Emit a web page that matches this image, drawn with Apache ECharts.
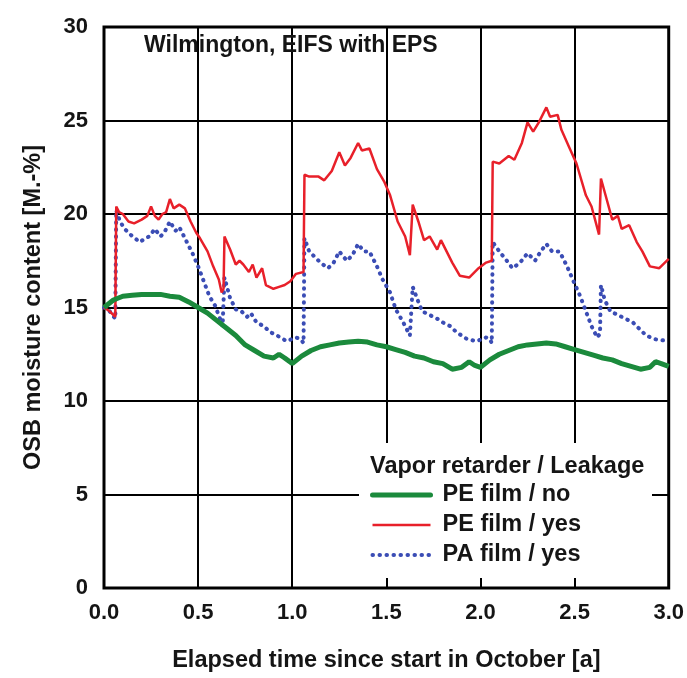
<!DOCTYPE html>
<html>
<head>
<meta charset="utf-8">
<script src="https://cdn.jsdelivr.net/npm/echarts@6/dist/echarts.min.js"></script>
<style>html,body{margin:0;padding:0;background:#fff;}#c{width:687px;height:678px;}</style>
</head>
<body>
<div id="c"></div>
<script>
// ---- data ----
const xTicks = [0, 0.5, 1.0, 1.5, 2.0, 2.5, 3.0];
const yTicks = [0, 5, 10, 15, 20, 25, 30];

const peNoT = [0,0.05,0.1,0.15,0.2,0.25,0.3,0.35,0.4,0.45,0.5,0.55,0.6,0.65,0.7,0.75,0.8,0.85,0.9,0.93,0.96,1.0,1.05,1.1,1.15,1.2,1.25,1.3,1.35,1.4,1.45,1.5,1.55,1.6,1.65,1.7,1.75,1.8,1.85,1.9,1.94,1.97,2.0,2.05,2.1,2.15,2.2,2.25,2.3,2.35,2.4,2.45,2.5,2.55,2.6,2.65,2.7,2.75,2.8,2.85,2.9,2.93,2.96,3.0];
const peNoV = [15.0,15.4,15.6,15.65,15.7,15.7,15.7,15.6,15.55,15.3,15.0,14.7,14.3,13.9,13.5,13.0,12.7,12.4,12.3,12.5,12.3,12.0,12.4,12.7,12.9,13.0,13.1,13.15,13.2,13.15,13.0,12.9,12.75,12.6,12.4,12.3,12.1,12.0,11.7,11.8,12.1,11.9,11.8,12.2,12.5,12.7,12.9,13.0,13.05,13.1,13.05,12.9,12.75,12.6,12.45,12.3,12.2,12.0,11.85,11.7,11.8,12.1,12.0,11.85];

const peYesT = [0,0.03,0.06,0.065,0.08,0.1,0.13,0.16,0.2,0.23,0.25,0.27,0.29,0.31,0.33,0.35,0.37,0.4,0.43,0.46,0.49,0.51,0.55,0.58,0.61,0.625,0.635,0.64,0.67,0.7,0.72,0.74,0.77,0.79,0.81,0.84,0.86,0.9,0.93,0.96,0.99,1.02,1.06,1.065,1.09,1.14,1.17,1.21,1.25,1.28,1.31,1.35,1.37,1.41,1.45,1.49,1.52,1.56,1.6,1.625,1.64,1.67,1.7,1.73,1.77,1.79,1.82,1.85,1.89,1.94,1.99,2.03,2.06,2.065,2.1,2.15,2.18,2.22,2.25,2.28,2.31,2.35,2.37,2.41,2.43,2.47,2.51,2.56,2.59,2.63,2.64,2.67,2.7,2.73,2.75,2.79,2.83,2.86,2.9,2.95,3.0];
const peYesV = [15.0,14.8,14.5,20.4,20.1,20.0,19.6,19.5,19.7,19.9,20.4,19.9,19.7,20.0,20.1,20.8,20.3,20.5,20.3,19.6,19.0,18.7,18.0,17.2,16.5,15.8,16.0,18.8,18.1,17.3,17.5,17.3,16.9,17.3,16.6,17.1,16.2,16.0,16.1,16.2,16.4,16.8,16.9,22.1,22.0,22.0,21.8,22.3,23.3,22.6,23.0,23.8,23.4,23.5,22.4,21.7,21.0,19.6,18.8,17.8,20.5,19.6,18.6,18.8,18.1,18.6,18.0,17.4,16.7,16.6,17.1,17.4,17.5,22.8,22.7,23.1,22.9,23.8,24.9,24.4,24.9,25.7,25.2,25.3,24.5,23.6,22.7,21.0,20.4,18.9,21.9,20.8,19.7,19.9,19.2,19.4,18.5,18.0,17.2,17.1,17.6];

const paYesT = [0,0.03,0.06,0.065,0.085,0.11,0.14,0.19,0.22,0.24,0.27,0.3,0.32,0.35,0.38,0.4,0.44,0.47,0.5,0.53,0.56,0.59,0.62,0.63,0.64,0.67,0.7,0.73,0.76,0.78,0.81,0.85,0.88,0.92,0.97,1.02,1.045,1.06,1.065,1.09,1.15,1.19,1.22,1.25,1.29,1.32,1.35,1.38,1.41,1.45,1.48,1.52,1.55,1.59,1.625,1.635,1.64,1.67,1.69,1.73,1.77,1.8,1.84,1.87,1.93,1.98,2.03,2.05,2.06,2.065,2.1,2.14,2.17,2.21,2.25,2.29,2.32,2.35,2.38,2.42,2.46,2.49,2.53,2.56,2.59,2.62,2.635,2.64,2.66,2.69,2.73,2.77,2.81,2.84,2.88,2.93,3.0];
const paYesV = [15.0,14.8,14.4,20.2,19.6,19.2,18.9,18.5,18.7,18.8,19.2,18.8,19.0,19.6,19.1,19.3,18.5,17.9,17.2,16.4,15.6,15.1,14.3,14.0,16.6,15.5,14.9,14.8,14.5,14.7,14.2,14.0,13.7,13.5,13.2,13.4,13.3,13.1,18.7,18.0,17.4,17.1,17.4,18.0,17.5,17.8,18.4,18.0,18.0,17.2,16.5,15.8,14.9,14.2,13.5,13.6,16.1,15.3,14.8,14.6,14.4,14.2,14.0,13.7,13.3,13.2,13.4,13.3,13.1,18.5,18.0,17.5,17.1,17.4,17.9,17.5,18.0,18.4,18.0,18.0,17.2,16.5,15.6,14.8,14.0,13.4,13.6,16.2,15.4,14.8,14.6,14.4,14.2,13.9,13.5,13.3,13.2];

const seriesNames = ['PE film / no', 'PE film / yes', 'PA film / yes'];
const titleText = 'Wilmington, EIFS with EPS';
const legendTitle = 'Vapor retarder / Leakage';
const xName = 'Elapsed time since start in October [a]';
const yName = 'OSB moisture content [M.-%]';

function pairs(t, v) { return t.map((x, i) => [x, v[i]]); }

const FONT = '"Liberation Sans", Arial, sans-serif';
const TXT = '#151515';
const GREEN = '#1b8a3c', RED = '#e8202a', BLUE = '#3b4db5';
const greenLine = {color: GREEN, width: 5, cap: 'round'};
const redLine = {color: RED, width: 2.5};
const blueLine = {color: BLUE, width: 4, type: [0.5, 6.5], cap: 'round'};

const chart = echarts.init(document.getElementById('c'), null, {renderer: 'canvas'});
chart.setOption({
  backgroundColor: '#fff',
  animation: false,
  title: {
    text: titleText, left: 144, top: 34, padding: 0,
    textStyle: {fontFamily: FONT, fontWeight: 'bold', fontSize: 23, color: TXT}
  },
  grid: {left: 104, right: 18, top: 27, bottom: 87, show: true, borderColor: '#000', borderWidth: 3, containLabel: false},
  xAxis: {
    type: 'value', min: 0, max: 3, interval: 0.5,
    axisLine: {show: false}, axisTick: {show: false},
    splitLine: {show: true, lineStyle: {color: '#000', width: 2}},
    axisLabel: {fontFamily: FONT, fontWeight: 'bold', fontSize: 22, color: TXT, margin: 14,
      formatter: v => v.toFixed(1)},
    name: xName, nameLocation: 'middle', nameGap: 61,
    nameTextStyle: {fontFamily: FONT, fontWeight: 'bold', fontSize: 23.5, color: TXT}
  },
  yAxis: {
    type: 'value', min: 0, max: 30, interval: 5,
    axisLine: {show: false}, axisTick: {show: false},
    splitLine: {show: true, lineStyle: {color: '#000', width: 2}},
    axisLabel: {fontFamily: FONT, fontWeight: 'bold', fontSize: 22, color: TXT, margin: 16},
    name: yName, nameLocation: 'middle', nameGap: 58,
    nameTextStyle: {fontFamily: FONT, fontWeight: 'bold', fontSize: 23.5, color: TXT}
  },
  graphic: [
    {type: 'rect', z: 50, shape: {x: 359, y: 443, width: 293, height: 135}, style: {fill: '#fff'}},
    {type: 'text', z: 51, x: 370, y: 467, style: {text: legendTitle, fontFamily: FONT, fontWeight: 'bold', fontSize: 23.5, fill: TXT, verticalAlign: 'middle'}}
  ],
  legend: {
    z: 60, orient: 'vertical', left: 370, top: 483, padding: 0, itemGap: 6, itemWidth: 58, itemHeight: 14,
    itemStyle: {opacity: 0},
    textStyle: {fontFamily: FONT, fontWeight: 'bold', fontSize: 23.5, color: TXT, lineHeight: 24, padding: [0, 0, 0, 7]},
    data: [
      {name: seriesNames[0], lineStyle: greenLine},
      {name: seriesNames[1], lineStyle: redLine},
      {name: seriesNames[2], lineStyle: blueLine}
    ]
  },
  series: [
    {name: seriesNames[2], type: 'line', data: pairs(paYesT, paYesV), symbol: 'none', z: 3,
      lineStyle: blueLine, itemStyle: {color: BLUE}},
    {name: seriesNames[1], type: 'line', data: pairs(peYesT, peYesV), symbol: 'none', z: 4,
      lineStyle: redLine, itemStyle: {color: RED}},
    {name: seriesNames[0], type: 'line', data: pairs(peNoT, peNoV), symbol: 'none', z: 5,
      lineStyle: {color: GREEN, width: 5}, itemStyle: {color: GREEN}}
  ]
});
</script>
</body>
</html>
